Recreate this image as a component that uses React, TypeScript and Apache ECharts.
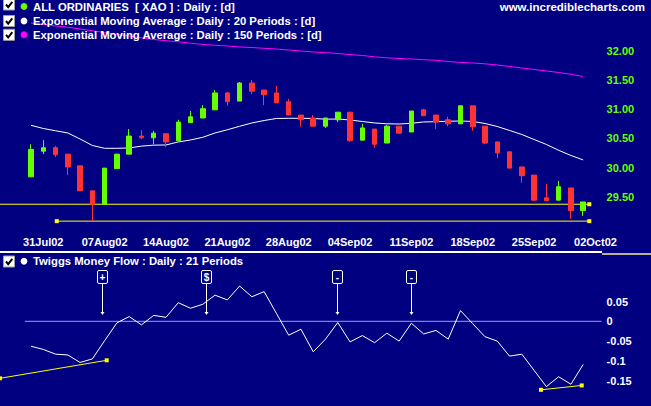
import React, { useEffect, useRef } from "react";
import * as echarts from "echarts";

// ---- categories (trading days; first 3 and last are empty slots) ----
const dates = [
  "25Jul02", "26Jul02", "29Jul02", "30Jul02", "31Jul02",
  "01Aug02", "02Aug02", "05Aug02", "06Aug02", "07Aug02", "08Aug02", "09Aug02",
  "12Aug02", "13Aug02", "14Aug02", "15Aug02", "16Aug02", "19Aug02", "20Aug02",
  "21Aug02", "22Aug02", "23Aug02", "26Aug02", "27Aug02", "28Aug02", "29Aug02",
  "30Aug02", "02Sep02", "03Sep02", "04Sep02", "05Sep02", "06Sep02", "09Sep02",
  "10Sep02", "11Sep02", "12Sep02", "13Sep02", "16Sep02", "17Sep02", "18Sep02",
  "19Sep02", "20Sep02", "23Sep02", "24Sep02", "25Sep02", "26Sep02", "27Sep02",
  "30Sep02", "01Oct02", "02Oct02",
];
const firstDataIndex = 3;
const tickLabels = [
  "31Jul02", "07Aug02", "14Aug02", "21Aug02", "28Aug02",
  "04Sep02", "11Sep02", "18Sep02", "25Sep02", "02Oct02",
];

// ---- price candles (30 Jul .. 1 Oct) ----
const openP = [
  29.84, 30.28, 30.34, 30.23, 30.03, 29.60, 29.37, 29.98, 30.23, 30.54,
  30.51, 30.58, 30.46, 30.77, 30.85, 30.99, 31.28, 31.14, 31.45, 31.33,
  31.28, 31.13, 30.90, 30.85, 30.71, 30.82, 30.95, 30.47, 30.66, 30.42,
  30.71, 30.61, 30.99, 30.90, 30.82, 30.75, 31.06, 30.71, 30.44, 30.27,
  30.01, 29.87, 29.48, 29.44, 29.65, 29.26,
];
const closeP = [
  30.31, 30.34, 30.22, 30.01, 29.60, 29.37, 29.99, 30.23, 30.54, 30.51,
  30.59, 30.44, 30.78, 30.87, 31.01, 31.28, 31.13, 31.45, 31.31, 31.25,
  31.11, 30.90, 30.82, 30.71, 30.85, 30.95, 30.46, 30.68, 30.40, 30.71,
  30.59, 30.97, 30.89, 30.78, 30.75, 31.06, 30.70, 30.42, 30.25, 29.99,
  29.86, 29.44, 29.43, 29.67, 29.26, 29.41,
];
const lowP = [
  29.84, 30.23, 30.18, 29.87, 29.60, 29.08, 29.37, 29.98, 30.23, 30.49,
  30.40, 30.35, 30.46, 30.77, 30.85, 30.99, 31.06, 31.14, 31.26, 31.07,
  31.11, 30.90, 30.70, 30.71, 30.68, 30.78, 30.44, 30.47, 30.34, 30.42,
  30.58, 30.61, 30.89, 30.66, 30.71, 30.75, 30.63, 30.40, 30.16, 29.99,
  29.74, 29.43, 29.43, 29.44, 29.12, 29.17,
];
const highP = [
  30.40, 30.47, 30.37, 30.23, 30.03, 29.60, 29.99, 30.23, 30.66, 30.64,
  30.63, 30.58, 30.82, 30.97, 31.07, 31.33, 31.30, 31.47, 31.50, 31.33,
  31.40, 31.18, 30.90, 30.90, 30.85, 30.95, 30.95, 30.75, 30.66, 30.73,
  30.71, 30.97, 31.01, 30.90, 30.87, 31.06, 31.06, 30.71, 30.44, 30.27,
  30.01, 29.87, 29.72, 29.77, 29.65, 29.41,
];
const ema20 = [
  30.725, 30.670, 30.631, 30.593, 30.490, 30.379, 30.330, 30.330, 30.336, 30.367,
  30.384, 30.387, 30.439, 30.473, 30.519, 30.593, 30.648, 30.708, 30.765, 30.807,
  30.842, 30.845, 30.845, 30.842, 30.830, 30.833, 30.816, 30.790, 30.765, 30.751,
  30.747, 30.759, 30.782, 30.787, 30.794, 30.799, 30.790, 30.756, 30.704, 30.636,
  30.567, 30.481, 30.396, 30.296, 30.207, 30.130,
];
const ema150 = [
  32.480, 32.455, 32.429, 32.408, 32.377, 32.347, 32.317, 32.283, 32.257, 32.226,
  32.197, 32.177, 32.158, 32.134, 32.112, 32.098, 32.086, 32.069, 32.060, 32.046,
  32.034, 32.017, 32.000, 31.983, 31.971, 31.957, 31.938, 31.923, 31.900, 31.883,
  31.871, 31.863, 31.851, 31.840, 31.820, 31.803, 31.794, 31.780, 31.760, 31.734,
  31.708, 31.683, 31.657, 31.631, 31.600, 31.562,
];
// ---- Twiggs Money Flow ----
const tmf = [
  -0.063, -0.071, -0.083, -0.085, -0.104, -0.095, -0.049, -0.004, 0.012, -0.009,
  0.015, 0.010, 0.047, 0.033, 0.043, 0.066, 0.054, 0.089, 0.062, 0.075,
  0.020, -0.035, -0.020, -0.077, -0.045, -0.003, -0.052, -0.036, -0.054, -0.030,
  -0.050, -0.005, -0.032, -0.023, -0.045, 0.027, -0.006, -0.039, -0.050, -0.088,
  -0.083, -0.124, -0.165, -0.140, -0.159, -0.109,
];
// user-drawn lines (x in category-index units)
const supportHigh = [[0.47, 29.37], [48.5, 29.37]];
const supportLow = [[5.1, 29.08], [48.5, 29.08]];
const tmfTrend1 = [[0.47, -0.144], [9.17, -0.0985]];
const tmfTrend2 = [[44.56, -0.173], [47.88, -0.162]];
const signalX = [8.8, 17.25, 27.95, 33.95];
const signalText = ["+", "$", "-", "-"];
const signalTip = 0.016;
const signalTop = 0.1295;

const GREEN = "#66ff00";
const RED = "#ff3333";
const YELLOW = "#ffff00";
const FONT = '"Liberation Sans", Arial, sans-serif';

// the chart canvas is shifted up/left so that the plot can start off-page
const OX = 12;
const OY = 8;

export default function App() {
  const ref = useRef<HTMLDivElement>(null);
  useEffect(() => {
    if (!ref.current) return;
    const chart = echarts.init(ref.current, undefined, { renderer: "svg" });
    const n = dates.length;
    const GL = -11.95 + OX;
    const GW = 613.55;

    const checkbox = (top: number) => [
      {
        type: "rect", z: 100,
        shape: { x: 3.5 + OX, y: top + 0.5 + OY, width: 11, height: 11 },
        style: { fill: "#ffffff", stroke: "#a0a0a0", lineWidth: 1 },
      },
      {
        type: "polyline", z: 101,
        shape: { points: [[6 + OX, top + 6 + OY], [8.2 + OX, top + 8.7 + OY], [12.3 + OX, top + 3.3 + OY]] },
        style: { stroke: "#000000", lineWidth: 2, fill: null },
      },
    ];
    const legendRow = (top: number, cy: number, color: string, text: string) => [
      ...checkbox(top),
      { type: "circle", z: 100, shape: { cx: 24 + OX, cy: cy + OY, r: 3.4 }, style: { fill: color } },
      {
        type: "text", z: 100, x: 33 + OX, y: cy + OY,
        style: {
          text, fill: "#ffffff", font: `bold 11.3px ${FONT}`,
          verticalAlign: "middle", textVerticalAlign: "middle",
        },
      },
    ];

    const lineSeries = (
      data: any[], color: string, xAxisIndex: number, yAxisIndex: number, z: number, withMarks = false
    ) => ({
      type: "line",
      xAxisIndex, yAxisIndex, z,
      data,
      showSymbol: withMarks,
      symbol: "rect",
      symbolSize: 4,
      itemStyle: { color },
      lineStyle: { color, width: 1 },
      silent: true,
    });

    const option: any = {
      animation: false,
      backgroundColor: "#000080",
      grid: [
        { left: GL, width: GW, top: 21.86 + OY, height: 203.94, outerBoundsMode: "none" },
        { left: GL, width: GW, top: 281.7 + OY, height: 118.8, outerBoundsMode: "none" },
      ],
      xAxis: [
        {
          type: "category", gridIndex: 0, data: dates,
          axisLine: { show: false }, axisTick: { show: false }, splitLine: { show: false },
          axisLabel: {
            interval: (_i: number, v: string) => tickLabels.includes(v),
            color: "#ffffff", fontFamily: FONT, fontWeight: "bold", fontSize: 11, margin: 11,
            hideOverlap: false,
          },
        },
        { type: "value", gridIndex: 0, min: -0.5, max: n - 0.5, show: false },
        { type: "value", gridIndex: 1, min: -0.5, max: n - 0.5, show: false },
      ],
      yAxis: [
        {
          type: "value", gridIndex: 0, position: "right", min: 29, max: 32.5, interval: 0.5,
          axisLine: { show: false }, axisTick: { show: false }, splitLine: { show: false },
          axisLabel: {
            showMinLabel: false, showMaxLabel: false,
            formatter: (v: number) => v.toFixed(2),
            color: GREEN, fontFamily: FONT, fontWeight: "bold", fontSize: 11, margin: 5,
          },
        },
        {
          type: "value", gridIndex: 1, position: "right", min: -0.2, max: 0.1, interval: 0.05,
          axisLine: { show: false }, axisTick: { show: false }, splitLine: { show: false },
          axisLabel: {
            showMinLabel: false, showMaxLabel: false,
            formatter: (v: number) => String(Math.round(v * 100) / 100),
            color: "#ffffff", fontFamily: FONT, fontWeight: "bold", fontSize: 11, margin: 5,
          },
        },
      ],
      series: [
        lineSeries([{ value: supportHigh[0], symbolSize: 0 }, supportHigh[1]], YELLOW, 1, 0, 1, true),
        lineSeries(supportLow, YELLOW, 1, 0, 1, true),
        lineSeries(ema150.map((v, i) => [i + firstDataIndex, v]), "#ff00ff", 0, 0, 2),
        lineSeries(ema20.map((v, i) => [i + firstDataIndex, v]), "#ffffff", 0, 0, 2),
        {
          type: "candlestick",
          xAxisIndex: 0, yAxisIndex: 0, z: 3,
          barWidth: 5,
          encode: { x: 0, y: [1, 2, 3, 4] },
          data: openP.map((o, i) => [i + firstDataIndex, o, closeP[i], lowP[i], highP[i]]),
          itemStyle: {
            color: GREEN, color0: RED, borderColor: GREEN, borderColor0: RED, borderWidth: 1,
          },
          silent: true,
        },
        lineSeries([[firstDataIndex - 0.5, 0], [n - 0.5, 0]], "#9c9cff", 2, 1, 1),
        lineSeries(tmf.map((v, i) => [i + firstDataIndex, v]), "#ffffff", 2, 1, 2),
        lineSeries(tmfTrend1, YELLOW, 2, 1, 3, true),
        lineSeries(tmfTrend2, YELLOW, 2, 1, 3, true),
        {
          type: "custom",
          xAxisIndex: 2, yAxisIndex: 1, z: 4, clip: false, silent: true,
          data: signalX.map((x, k) => [x, k]),
          renderItem: (params: any, api: any) => {
            const x = api.value(0);
            const tip = api.coord([x, signalTip]);
            const top = api.coord([x, signalTop]);
            const cx = Math.round(tip[0]) + 0.5;
            const bw = 10, bh = 13;
            const by = Math.round(top[1]) + 0.5;
            const ty = Math.round(tip[1]);
            return {
              type: "group",
              children: [
                {
                  type: "rect",
                  shape: { x: cx - bw / 2, y: by, width: bw, height: bh, r: 1.5 },
                  style: { fill: "#000080", stroke: "#ffffff", lineWidth: 1 },
                },
                {
                  type: "text",
                  x: cx, y: by + bh / 2 + 0.5,
                  style: {
                    text: signalText[params.dataIndex], fill: "#ffffff",
                    font: `bold 10px ${FONT}`,
                    align: "center", verticalAlign: "middle",
                    textAlign: "center", textVerticalAlign: "middle",
                  },
                },
                {
                  type: "line",
                  shape: { x1: cx, y1: by + bh, x2: cx, y2: ty - 2 },
                  style: { stroke: "#ffffff", lineWidth: 1 },
                },
                {
                  type: "polygon",
                  shape: { points: [[cx - 2, ty - 3], [cx + 2, ty - 3], [cx, ty]] },
                  style: { fill: "#ffffff" },
                },
              ],
            };
          },
        },
      ],
      graphic: [
        ...legendRow(-1.5, 6.5, GREEN, "ALL ORDINARIES  [ XAO ] : Daily : [d]"),
        ...legendRow(15, 21, "#ffffff", "Exponential Moving Average : Daily : 20 Periods : [d]"),
        ...legendRow(28.8, 34.7, "#ff00ff", "Exponential Moving Average : Daily : 150 Periods : [d]"),
        ...legendRow(255.5, 261.3, "#ffffff", "Twiggs Money Flow : Daily : 21 Periods"),
        {
          type: "text", z: 100, x: 645 + OX, y: 7 + OY,
          style: {
            text: "www.incrediblecharts.com", fill: "#ffffff", font: `bold 11.5px ${FONT}`,
            align: "right", verticalAlign: "middle",
            textAlign: "right", textVerticalAlign: "middle",
          },
        },
        {
          type: "line", z: 100,
          shape: { x1: 0, y1: 252 + OY, x2: 602 + OX, y2: 252 + OY },
          style: { stroke: "#ffffff", lineWidth: 2 },
        },
        {
          type: "line", z: 100,
          shape: { x1: 602 + OX, y1: 254 + OY, x2: 651 + OX, y2: 254 + OY },
          style: { stroke: "#b8b090", lineWidth: 2 },
        },
      ],
    };
    chart.setOption(option);
    return () => chart.dispose();
  }, []);
  return (
    <div
      ref={ref}
      style={{ position: "fixed", left: -OX, top: -OY, width: 651 + OX, height: 406 + OY }}
    />
  );
}
